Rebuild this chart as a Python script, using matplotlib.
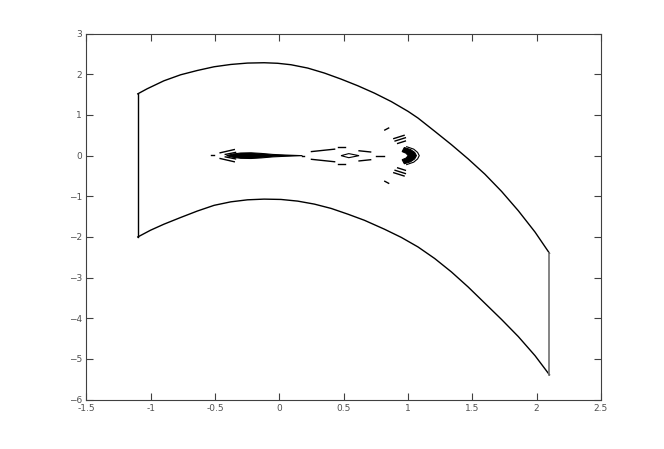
import matplotlib
matplotlib.use('Agg')
from matplotlib import pyplot as plt

# outer boundary of the region
upper_x = [-1.100, -1.027, -0.897, -0.767, -0.637, -0.507, -0.377, -0.247,
           -0.118, -0.013, 0.091, 0.221, 0.351, 0.480, 0.611, 0.740, 0.870,
           1.001, 1.078, 1.208, 1.338, 1.468, 1.598, 1.728, 1.858, 1.988, 2.100]
upper_y = [1.520, 1.645, 1.841, 1.989, 2.095, 2.186, 2.243, 2.277,
           2.285, 2.272, 2.236, 2.154, 2.031, 1.883, 1.718, 1.537, 1.331,
           1.089, 0.925, 0.600, 0.270, -0.080, -0.455, -0.880, -1.355, -1.880, -2.400]
lower_x = [-1.100, -1.001, -0.897, -0.767, -0.637, -0.507, -0.377, -0.247,
           -0.118, 0.013, 0.143, 0.273, 0.403, 0.533, 0.662, 0.818, 0.948,
           1.078, 1.208, 1.338, 1.468, 1.598, 1.728, 1.858, 1.988, 2.100]
lower_y = [-2.000, -1.834, -1.686, -1.521, -1.362, -1.222, -1.136, -1.086,
           -1.069, -1.077, -1.118, -1.192, -1.298, -1.439, -1.590, -1.810, -2.010,
           -2.245, -2.530, -2.860, -3.230, -3.630, -4.030, -4.450, -4.920, -5.390]
left_x = [-1.10, -1.10]
left_y = [1.52, -2.00]
right_x = [2.10, 2.10]
right_y = [-2.40, -5.39]

# filled contour pieces in the middle
blob_x = [-0.41, -0.36, -0.30, -0.22, -0.14, -0.05, 0.05, 0.18,
          0.05, -0.05, -0.14, -0.22, -0.30, -0.36, -0.41]
blob_y = [0.0, 0.04, 0.065, 0.07, 0.055, 0.03, 0.015, 0.0,
          -0.015, -0.03, -0.055, -0.07, -0.065, -0.04, 0.0]
cres_x = [0.972, 1.02, 1.052, 1.066, 1.052, 1.02, 0.972,
          0.955, 0.985, 1.002, 0.985, 0.955]
cres_y = [0.20, 0.15, 0.08, 0.0, -0.08, -0.15, -0.20,
          -0.10, -0.06, 0.0, 0.06, 0.10]
arc_x = [0.99, 1.045, 1.075, 1.088, 1.075, 1.045, 0.99]
arc_y = [0.22, 0.16, 0.08, 0.0, -0.08, -0.16, -0.22]
diam_x = [0.48, 0.54, 0.62, 0.54, 0.48]
diam_y = [0.0, 0.05, 0.0, -0.05, 0.0]

# thin contour dashes: (x0, x1, y0, y1)
dash_x0 = [-0.53, -0.46, -0.46, -0.42, -0.42, 0.18, 0.25, 0.25, 0.46, 0.46,
           0.62, 0.62, 0.75, 0.82, 0.82,
           0.89, 0.89, 0.90, 0.90, 0.92, 0.92]
dash_x1 = [-0.51, -0.35, -0.35, -0.34, -0.34, 0.19, 0.43, 0.43, 0.51, 0.51,
           0.71, 0.71, 0.81, 0.85, 0.85,
           0.97, 0.97, 0.98, 0.98, 0.98, 0.98]
dash_y0 = [0.01, 0.07, -0.07, 0.03, -0.03, 0.0, 0.10, -0.09, 0.22, -0.21,
           0.12, -0.13, 0.0, 0.63, -0.63,
           0.42, -0.42, 0.36, -0.36, 0.30, -0.30]
dash_y1 = [0.01, 0.15, -0.15, 0.08, -0.08, 0.0, 0.16, -0.15, 0.22, -0.21,
           0.09, -0.10, 0.0, 0.68, -0.68,
           0.50, -0.50, 0.44, -0.44, 0.36, -0.36]

xticks = [-1.5, -1, -0.5, 0, 0.5, 1, 1.5, 2, 2.5]
xlabels = ['-1.5', '-1', '-0.5', '0', '0.5', '1', '1.5', '2', '2.5']
yticks = [-6, -5, -4, -3, -2, -1, 0, 1, 2, 3]

fig = plt.figure(figsize=(6.64, 4.49), dpi=100)
ax = fig.add_axes([0.13, 0.11, 0.775, 0.815])

lw = 1.0
ax.plot(upper_x, upper_y, color='k', lw=lw)
ax.plot(lower_x, lower_y, color='k', lw=lw)
ax.plot(left_x, left_y, color='k', lw=lw)
ax.plot(right_x, right_y, color='#707070', lw=1.2)

ax.fill(blob_x, blob_y, color='k', lw=0.8)
ax.fill(cres_x, cres_y, color='k', lw=0.8)
ax.plot(arc_x, arc_y, color='k', lw=0.8)
ax.fill(diam_x, diam_y, facecolor='none', edgecolor='k', lw=0.8)
for x0, x1, y0, y1 in zip(dash_x0, dash_x1, dash_y0, dash_y1):
    ax.plot([x0, x1], [y0, y1], color='k', lw=1.0)

ax.set_xlim(-1.5, 2.5)
ax.set_ylim(-6, 3)
ax.set_xticks(xticks)
ax.set_xticklabels(xlabels)
ax.set_yticks(yticks)

for s in ax.spines.values():
    s.set_color('#404040')
    s.set_linewidth(0.8)
ax.tick_params(direction='in', length=5, width=0.8, colors='#404040',
               labelsize=6.5, labelcolor='#505050',
               top=True, right=True, pad=3)

fig.savefig('out.png', dpi=100)
